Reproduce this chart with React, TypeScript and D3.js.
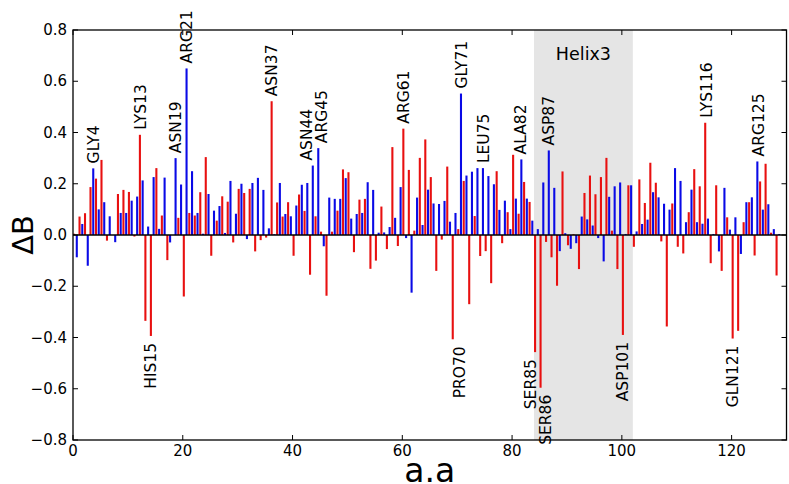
import * as d3 from 'd3';

// delta B per residue (index 0 = residue 1)
const redVals = [
  0.005, 0.072, 0.085, 0.187, 0.22, 0.293, -0.022, 0.0, 0.16, 0.176,
  0.168, -0.006, 0.391, -0.335, -0.394, 0.261, 0.076, -0.098, 0.0, 0.067,
  -0.24, 0.086, 0.076, 0.167, 0.304, -0.081, 0.056, 0.151, 0.13, -0.029,
  0.18, 0.164, 0.18, -0.064, -0.02, -0.01, 0.522, 0.127, 0.072, 0.128,
  -0.081, 0.158, 0.094, -0.155, 0.073, 0.013, -0.237, 0.013, 0.095, 0.256,
  0.245, -0.067, 0.138, 0.141, -0.132, -0.1, 0.111, -0.055, 0.343, -0.043,
  0.415, 0.254, 0.017, 0.301, 0.373, 0.226, -0.14, -0.018, 0.267, -0.407,
  0.023, 0.211, -0.27, 0.074, -0.082, -0.063, -0.188, 0.249, -0.032, 0.089,
  0.313, 0.083, 0.207, 0.129, -0.457, -0.596, -0.027, -0.087, -0.198, 0.248,
  -0.04, 0.003, -0.133, 0.164, 0.232, 0.159, 0.226, 0.301, 0.017, -0.133,
  -0.39, 0.194, -0.046, 0.217, 0.125, 0.282, 0.204, -0.025, -0.357, 0.123,
  -0.046, -0.072, 0.089, 0.257, 0.19, 0.438, -0.11, 0.194, -0.14, 0.069,
  -0.404, -0.374, 0.05, 0.128, -0.08, 0.209, 0.278, 0.009, -0.158,
];

const blueVals = [
  -0.087, 0.043, -0.12, 0.26, 0.1, 0.128, 0.073, -0.028, 0.086, 0.086,
  0.134, 0.15, 0.213, 0.033, 0.226, 0.024, 0.224, -0.029, 0.3, 0.197,
  0.65, 0.249, 0.086, 0.005, 0.16, 0.095, 0.113, 0.008, 0.211, 0.083,
  0.2, -0.016, 0.203, 0.223, 0.176, 0.026, 0.003, 0.203, 0.082, 0.073,
  0.115, 0.196, 0.203, 0.271, 0.339, -0.044, 0.146, 0.141, 0.141, 0.222,
  0.064, 0.082, 0.086, 0.206, 0.176, 0.009, 0.01, 0.031, 0.067, 0.187,
  -0.012, -0.225, 0.146, 0.039, 0.177, 0.123, 0.121, 0.133, 0.052, 0.086,
  0.552, 0.232, 0.247, 0.261, 0.261, 0.23, 0.198, 0.098, 0.134, 0.023,
  0.142, 0.295, 0.142, 0.056, 0.023, 0.205, 0.33, 0.184, -0.063, 0.007,
  -0.054, -0.032, 0.072, 0.061, 0.037, -0.012, -0.103, 0.149, 0.19, 0.205,
  0.004, 0.194, 0.014, 0.043, 0.06, 0.167, 0.147, 0.122, 0.099, 0.261,
  0.211, 0.05, 0.177, 0.05, 0.044, 0.064, 0.004, -0.064, 0.184, 0.021,
  0.069, -0.074, 0.128, 0.147, 0.287, 0.099, 0.12, 0.023, 0.004,
];

// residue annotations: text, label centre on the x axis, which bar it sits on
const labels: { text: string; at: number; series: 'red' | 'blue'; idx: number }[] = [
  { text: 'GLY4', at: 3.8, series: 'blue', idx: 3 },
  { text: 'LYS13', at: 12.35, series: 'red', idx: 12 },
  { text: 'HIS15', at: 14.3, series: 'red', idx: 14 },
  { text: 'ASN19', at: 18.7, series: 'blue', idx: 18 },
  { text: 'ARG21', at: 20.7, series: 'blue', idx: 20 },
  { text: 'ASN37', at: 36.3, series: 'red', idx: 36 },
  { text: 'ASN44', at: 42.7, series: 'blue', idx: 43 },
  { text: 'ARG45', at: 45.4, series: 'blue', idx: 44 },
  { text: 'ARG61', at: 60.3, series: 'red', idx: 60 },
  { text: 'PRO70', at: 70.6, series: 'red', idx: 69 },
  { text: 'GLY71', at: 70.8, series: 'blue', idx: 70 },
  { text: 'LEU75', at: 74.8, series: 'blue', idx: 74 },
  { text: 'ALA82', at: 81.6, series: 'blue', idx: 81 },
  { text: 'SER85', at: 83.5, series: 'red', idx: 84 },
  { text: 'SER86', at: 86.2, series: 'red', idx: 85 },
  { text: 'ASP87', at: 86.7, series: 'blue', idx: 86 },
  { text: 'ASP101', at: 100.3, series: 'red', idx: 100 },
  { text: 'LYS116', at: 115.5, series: 'red', idx: 115 },
  { text: 'GLN121', at: 120.3, series: 'red', idx: 120 },
  { text: 'ARG125', at: 124.9, series: 'blue', idx: 124 },
];

const helix = { name: 'Helix3', from: 84, to: 102 };
const xTicks = [0, 20, 40, 60, 80, 100, 120];
const yTicks = [-0.8, -0.6, -0.4, -0.2, 0, 0.2, 0.4, 0.6, 0.8];

const W = 789;
const H = 484;
const FONT = '"DejaVu Sans", Verdana, sans-serif';
const RED = '#e81010';
const BLUE = '#0a0ae6';
const BAR_W = 0.38;

export default function App() {
  const x = d3.scaleLinear().domain([0, 130]).range([73, 786.5]);
  const y = d3.scaleLinear().domain([-0.8, 0.8]).range([440, 30]);
  const [x0, x1] = x.range();
  const [yb, yt] = y.range();
  const fmt = (v: number) => d3.format('.1f')(v).replace('-', '\u2212');

  const bar = (v: number, left: number, color: string, key: string) => (
    <rect
      key={key}
      x={x(left)}
      width={x(left + BAR_W) - x(left)}
      y={Math.min(y(v), y(0))}
      height={Math.abs(y(v) - y(0))}
      fill={color}
    />
  );

  return (
    <svg
      width={W}
      height={H}
      style={{ position: 'absolute', left: 0, top: 0, background: '#fff' }}
      fontFamily={FONT}
    >
      <rect x={x(helix.from)} y={yt} width={x(helix.to) - x(helix.from)} height={yb - yt} fill="#e5e5e5" />
      <text x={x((helix.from + helix.to) / 2)} y={59.5} fontSize={17.5} textAnchor="middle">
        {helix.name}
      </text>

      {redVals.map((v, i) => bar(v, i, RED, `r${i}`))}
      {blueVals.map((v, i) => bar(v, i + 0.5, BLUE, `b${i}`))}

      <line x1={x0} x2={x1} y1={y(0)} y2={y(0)} stroke="#000" strokeWidth={1.6} />

      {/* frame */}
      <rect x={x0} y={yt} width={x1 - x0} height={yb - yt} fill="none" stroke="#000" strokeWidth={1.3} />

      {xTicks.map(t => (
        <g key={`xt${t}`}>
          <line x1={x(t)} x2={x(t)} y1={yb} y2={yb - 5} stroke="#000" />
          <line x1={x(t)} x2={x(t)} y1={yt} y2={yt + 5} stroke="#000" />
          <text x={x(t)} y={455.5} fontSize={15} textAnchor="middle">{t}</text>
        </g>
      ))}
      {yTicks.map(t => (
        <g key={`yt${t}`}>
          <line x1={x0} x2={x0 + 5} y1={y(t)} y2={y(t)} stroke="#000" />
          <line x1={x1} x2={x1 - 5} y1={y(t)} y2={y(t)} stroke="#000" />
          <text x={67} y={y(t)} fontSize={15} textAnchor="end" dominantBaseline="central">{fmt(t)}</text>
        </g>
      ))}

      {labels.map(l => {
        const v = (l.series === 'red' ? redVals : blueVals)[l.idx];
        const pos = v >= 0;
        const ly = pos ? y(v) - 5 : y(v) + 7;
        return (
          <text
            key={l.text}
            transform={`translate(${x(l.at)},${ly}) rotate(-90)`}
            fontSize={15.5}
            textAnchor={pos ? 'start' : 'end'}
            dominantBaseline="central"
          >
            {l.text}
          </text>
        );
      })}

      <text transform={`translate(33,${(yt + yb) / 2}) rotate(-90)`} fontSize={29} textAnchor="middle">
        ΔB
      </text>
      <text x={(x0 + x1) / 2} y={481.5} fontSize={33} textAnchor="middle">a.a</text>
    </svg>
  );
}
